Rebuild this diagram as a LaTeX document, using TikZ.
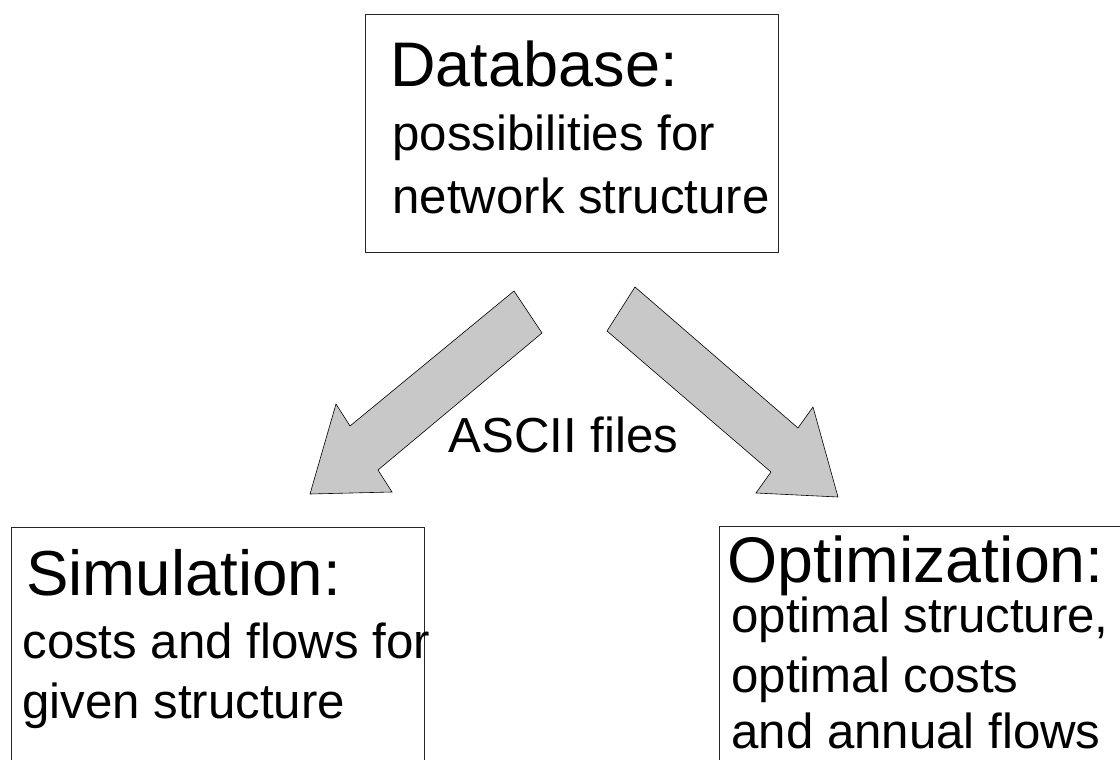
\documentclass[tikz,border=0pt]{standalone}
\usepackage{fontspec}
\setmainfont{Liberation Sans}
\usepackage{xcolor}
\definecolor{arrowgray}{HTML}{C8C8C8}
\usepackage{tikz}
\usetikzlibrary{positioning}

\begin{document}
\begin{tikzpicture}[x=1pt,y=-1pt,line width=0.8pt]
              \tikzstyle{box}=[draw=black!85,fill=none,inner sep=0pt,anchor=north west]
              \tikzstyle{head}=[inner sep=0pt,anchor=base west,font=\fontsize{63}{63}\selectfont]
              \tikzstyle{body}=[inner sep=0pt,anchor=base west,font=\fontsize{49.2}{49.2}\selectfont]
              \tikzstyle{fat}=[fill=arrowgray,draw=black,line width=0.6pt,line join=miter]

              \useasboundingbox (0,0) rectangle (1120,760);

              % the three boxes
              \node[box,minimum width=413pt,minimum height=238pt] (db)  at (365,14)  {};
              \node[box,minimum width=413pt,minimum height=300pt] (sim) at (11,527)  {};
              \node[box,minimum width=450pt,minimum height=300pt] (opt) at (719,526) {};

              % texts
              \node[head] (dbhead)  at (390,87)  {Database:};
              \node[body] (dbone)   at (392,150) {possibilities for};
              \node[body] (dbtwo)   at (392,213) {network structure};

              \node[head,font=\fontsize{63.6}{63.6}\selectfont] (simhead) at (26,595) {Simulation:};
              \node[body] (simone)  at (22,658)  {costs and flows for};
              \node[body] (simtwo)  at (22,718)  {given structure};

              \node[head,font=\fontsize{64.5}{64.5}\selectfont] (opthead) at (727,582) {Optimization:};
              \node[body] (optone)  at (731,632) {optimal structure,};
              \node[body] (opttwo)  at (731,692) {optimal costs};
              \node[body] (optthr)  at (731,748) {and annual flows};

              % block arrows
              \draw[fat] (514,291) -- (542,333) -- (378,470) -- (392,492)
                         -- (310,494) -- (336,404) -- (350,426) -- cycle;
              \draw[fat] (635,287) -- (798,428) -- (813,407) -- (838,497)
                         -- (756,493) -- (771,472) -- (607,331) -- cycle;

              \node[body] (ascii) at (448,452) {ASCII files};

       \end{tikzpicture}
\end{document}
